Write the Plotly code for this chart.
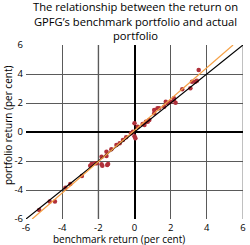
import plotly.graph_objects as go

bench = [-5.27, -4.69, -4.4, -3.82, -3.55, -2.91, -2.45, -2.37, -2.18, -2.09, -1.82, -1.82,
         -1.78, -1.55, -1.51, -1.46, -1.55, -1.28, -1.0, -0.82, -0.64, -0.46, -0.19, -0.09,
         0.0, 0.0, 0.05, 0.18, 0.45, 0.55, 0.63, 0.73, 0.82, 1.09, 1.09, 1.27, 1.36, 1.64,
         1.73, 1.82, 2.0, 2.18, 2.18, 2.27, 2.64, 3.09, 3.18, 3.36, 3.45, 3.55]
portf = [-5.38, -4.8, -4.8, -3.84, -3.59, -3.03, -2.32, -2.21, -2.16, -2.16, -1.7, -2.23,
         -2.32, -1.66, -2.28, -2.21, -1.36, -1.19, -0.9, -0.78, -0.55, -0.37, -0.09, 0.02,
         0.6, -0.3, -0.43, 0.37, 0.55, 0.48, 0.71, 0.71, 0.83, 1.29, 1.52, 1.63, 1.63, 1.74,
         2.09, 1.98, 2.09, 2.32, 2.2, 2.02, 2.94, 3.01, 3.47, 3.47, 3.54, 4.28]

diag_x = [-6, 6]
diag_y = [-6, 6]
fit_x = [-5.66, 5.45]
fit_y = [-6, 6]

tick_vals = [-6, -4, -2, 0, 2, 4, 6]
tick_text = ["-6", "-4", "-2", "0", "2", "4", "6"]

title_lines = ["The relationship between the return on",
               "GPFG\u2019s benchmark portfolio and actual",
               "portfolio"]
x_title = "benchmark return (per cent)"
y_title = "portfolio return (per cent)"

font_family = "Open Sans"

fig = go.Figure()
fig.add_trace(go.Scatter(x=bench, y=portf, mode="markers",
                         marker=dict(color="#b0303a", size=4.5, line=dict(width=0)),
                         showlegend=False, hoverinfo="skip"))
fig.add_trace(go.Scatter(x=diag_x, y=diag_y, mode="lines",
                         line=dict(color="#000000", width=1.2), showlegend=False))
fig.add_trace(go.Scatter(x=fit_x, y=fit_y, mode="lines",
                         line=dict(color="#f5a045", width=1.2), showlegend=False))

axis_common = dict(range=[-6, 6], tickvals=tick_vals, ticktext=tick_text,
                   showgrid=True, gridcolor="#5a5a5a", gridwidth=1,
                   zeroline=True, zerolinecolor="#000000", zerolinewidth=1.5,
                   showline=False, ticks="", fixedrange=True,
                   tickfont=dict(family=font_family, size=9.5, color="#000000"))

annotations = [
    dict(text="<br>".join(title_lines), xref="paper", yref="paper", x=0.505, y=1.0,
         yshift=24, xanchor="center", yanchor="middle", showarrow=False,
         font=dict(family=font_family, size=11.2, color="#000000")),
    dict(text=x_title, xref="paper", yref="paper", x=0.43, y=0,
         yshift=-19.5, xanchor="center", yanchor="middle", showarrow=False,
         font=dict(family=font_family, size=10, color="#000000")),
    dict(text=y_title, xref="paper", yref="paper", x=0, y=0.54,
         xshift=-18, xanchor="center", yanchor="middle", textangle=-90,
         showarrow=False,
         font=dict(family=font_family, size=10, color="#000000")),
]

fig.update_layout(
    width=250, height=245,
    margin=dict(l=26, r=4, t=45, b=26),
    paper_bgcolor="#ffffff", plot_bgcolor="#ffffff",
    xaxis=dict(**axis_common, ticklabelstandoff=1),
    yaxis=dict(**axis_common, ticklabelstandoff=2),
    font=dict(family=font_family, color="#000000"),
    shapes=[
        dict(type="line", xref="x", yref="y", x0=-2, x1=-2, y0=-6, y1=6,
             line=dict(color="#c0c0c0", width=2), layer="below"),
        dict(type="line", xref="x", yref="y", x0=6, x1=6, y0=-6, y1=6,
             line=dict(color="#c0c0c0", width=2), layer="below"),
    ],
    annotations=annotations,
)

fig.write_html("out.html")
